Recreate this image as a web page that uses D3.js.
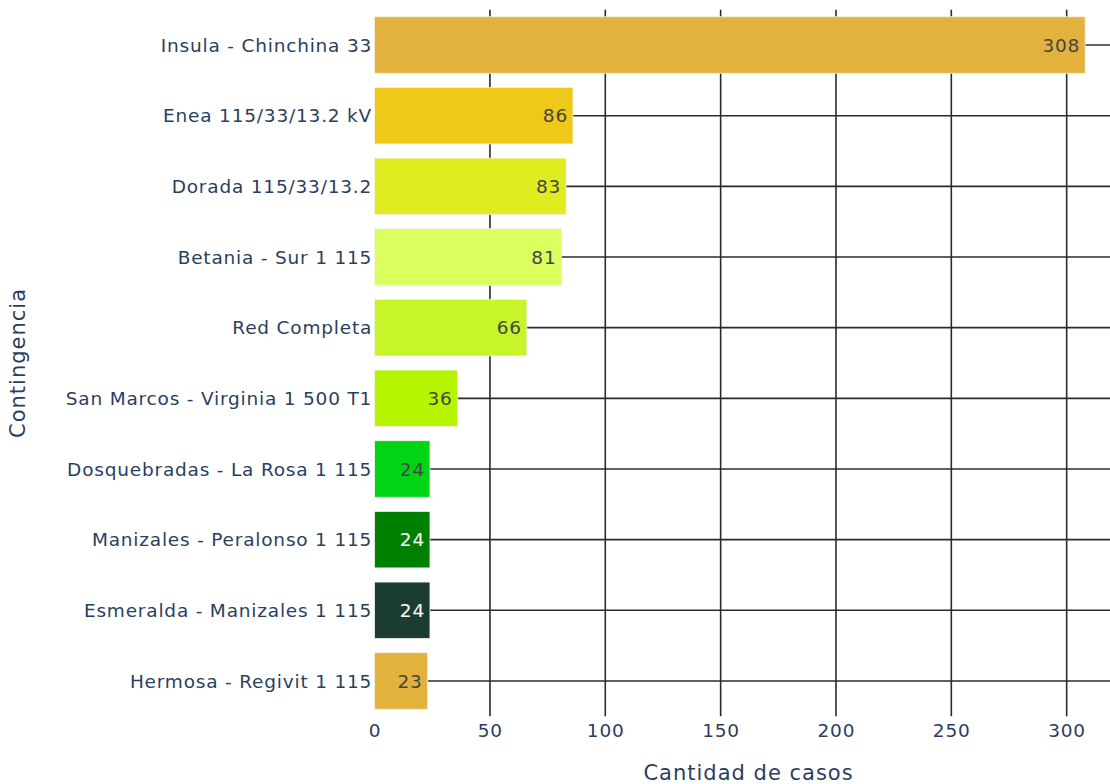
<!DOCTYPE html>
<html lang="es">
<head>
<meta charset="UTF-8">
<title>Contingencias</title>
<script src="https://d3js.org/d3.v7.min.js"></script>
<style>
  body { margin: 0; background: #fff; }
  svg { display: block; }
  text { font-family: Verdana, "DejaVu Sans", sans-serif; }
  .grid line { stroke: #2b2b2b; stroke-width: 1.6; }
  .tick-label { fill: #2a3f5f; font-size: 18.5px; letter-spacing: 0.8px; }
  .axis-title { fill: #2a3f5f; font-size: 21px; letter-spacing: 1px; }
  .bar-label { font-size: 18.5px; letter-spacing: 0.8px; }
</style>
</head>
<body>
<svg id="chart" width="1110" height="784"></svg>
<script>
// categories from top to bottom
const categories = [
  "Insula - Chinchina 33",
  "Enea 115/33/13.2 kV",
  "Dorada 115/33/13.2",
  "Betania - Sur 1 115",
  "Red Completa",
  "San Marcos - Virginia 1 500 T1",
  "Dosquebradas - La Rosa 1 115",
  "Manizales - Peralonso 1 115",
  "Esmeralda - Manizales 1 115",
  "Hermosa - Regivit 1 115"
];
const cases = [308, 86, 83, 81, 66, 36, 24, 24, 24, 23];
const barColors = [
  "#e2b23d", "#eec91a", "#dfec1f", "#dbff5f", "#c8f42a",
  "#b5f500", "#00d414", "#008000", "#1b3d31", "#e2b23d"
];
const xTicks = [0, 50, 100, 150, 200, 250, 300];

const svg = d3.select("#chart");
const plotLeft = 374.6, plotRight = 1122.5, plotTop = 9.7, plotBottom = 716.3;

const x = d3.scaleLinear().domain([0, 324.2]).range([plotLeft, plotRight]);
const y = d3.scaleBand().domain(categories).range([plotTop, plotBottom])
  .paddingInner(0.2).paddingOuter(0.1);

// grid lines (vertical at ticks, horizontal at categories)
const grid = svg.append("g").attr("class", "grid");
grid.selectAll(".vg")
  .data(xTicks.filter(d => d > 0))
  .enter().append("line")
    .attr("x1", d => x(d)).attr("x2", d => x(d))
    .attr("y1", plotTop).attr("y2", plotBottom);
grid.selectAll(".hg")
  .data(categories)
  .enter().append("line")
    .attr("x1", plotLeft).attr("x2", plotRight)
    .attr("y1", d => y(d) + y.bandwidth() / 2)
    .attr("y2", d => y(d) + y.bandwidth() / 2);

// bars
svg.selectAll(".bar")
  .data(categories)
  .enter().append("rect")
    .attr("class", "bar")
    .attr("x", x(0))
    .attr("y", d => y(d))
    .attr("width", (d, i) => x(cases[i]) - x(0))
    .attr("height", y.bandwidth())
    .attr("fill", (d, i) => barColors[i])
    .attr("stroke", "#f4f1ea")
    .attr("stroke-width", 0.8);

// value labels inside bars, white on dark bars
function isDark(c) {
  const rgb = d3.rgb(c);
  return (0.299 * rgb.r + 0.587 * rgb.g + 0.114 * rgb.b) < 100;
}
svg.selectAll(".bar-label")
  .data(categories)
  .enter().append("text")
    .attr("class", "bar-label")
    .attr("x", (d, i) => x(cases[i]) - 5)
    .attr("y", d => y(d) + y.bandwidth() / 2)
    .attr("dy", "0.36em")
    .attr("text-anchor", "end")
    .attr("fill", (d, i) => isDark(barColors[i]) ? "#ffffff" : "#444444")
    .text((d, i) => cases[i]);

// y tick labels
svg.selectAll(".ylab")
  .data(categories)
  .enter().append("text")
    .attr("class", "tick-label")
    .attr("x", plotLeft - 2.5)
    .attr("y", d => y(d) + y.bandwidth() / 2)
    .attr("dy", "0.36em")
    .attr("text-anchor", "end")
    .text(d => d);

// x tick labels
svg.selectAll(".xlab")
  .data(xTicks)
  .enter().append("text")
    .attr("class", "tick-label")
    .attr("x", d => x(d) + 0.4)
    .attr("y", 737)
    .attr("text-anchor", "middle")
    .text(d => d);

// axis titles
svg.append("text")
  .attr("class", "axis-title")
  .attr("x", (plotLeft + plotRight) / 2)
  .attr("y", 780)
  .attr("text-anchor", "middle")
  .text("Cantidad de casos");

svg.append("text")
  .attr("class", "axis-title")
  .attr("transform", `translate(25, ${(plotTop + plotBottom) / 2}) rotate(-90)`)
  .attr("text-anchor", "middle")
  .text("Contingencia");
</script>
</body>
</html>
